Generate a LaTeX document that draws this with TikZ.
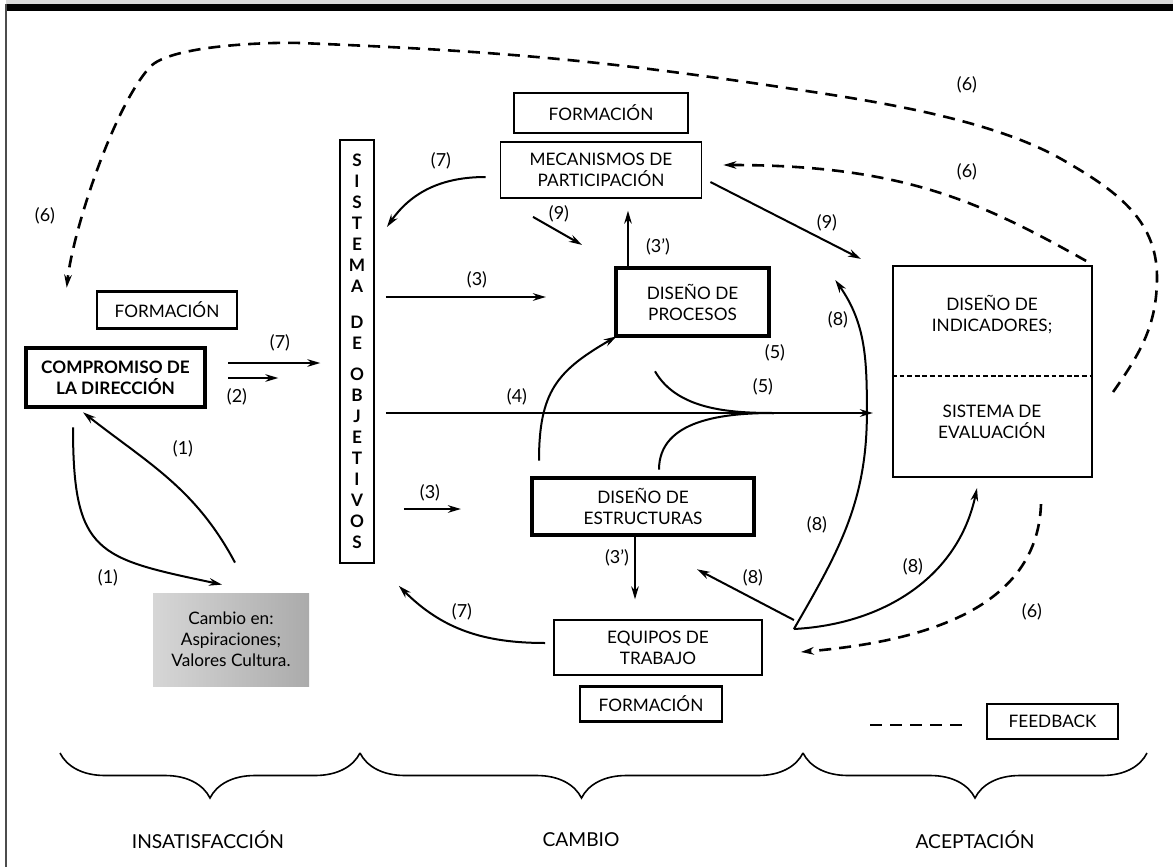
\documentclass[tikz,border=0pt]{standalone}
\usepackage{fontspec}
\setmainfont{Lato}
\usetikzlibrary{arrows.meta,positioning,calc,decorations.pathreplacing}

\begin{document}
\begin{tikzpicture}[x=0.5pt,y=-0.5pt,>={Stealth[length=6.5pt,width=3.8pt]},
  txt/.style={font=\fontsize{8.6}{10.5}\selectfont,align=center},
  caja/.style={txt,draw,line width=0.9pt,inner sep=0pt},
  cajaform/.style={caja,line width=1.3pt},
  cajagruesa/.style={caja,line width=2.3pt},
  num/.style={font=\fontsize{9}{10.5}\selectfont,inner sep=1pt},
  etapa/.style={font=\fontsize{9.6}{11}\selectfont},
  flecha/.style={->,line width=1pt},
  fb/.style={line width=1.3pt,dash pattern=on 6pt off 4pt},
  llave/.style={line width=0.8pt,decorate,decoration={brace,mirror,amplitude=22.5pt}}]
\useasboundingbox (0,0) rectangle (1173,867);
\fill[black!15] (6,0) rectangle (1173,4);
\fill (6,4) rectangle (1173,11);
\draw[black!70,line width=1pt] (6,4) -- (6,867);

\node[cajagruesa,font=\fontsize{8.6}{10.5}\selectfont\bfseries,minimum width=89.5pt,minimum height=29.5pt] (compromiso) at (115.5,377.5) {COMPROMISO DE\\LA DIRECCIÓN};
\node[cajaform,minimum width=70pt,minimum height=18.5pt,above=8pt of compromiso,xshift=25.75pt] (formizq) {FORMACIÓN};
\node[caja,font=\fontsize{8.6}{10.5}\selectfont\bfseries,minimum width=17pt,minimum height=211.5pt] (sistema) at (357,351.5) {S\\I\\S\\T\\E\\M\\A\\[7.5pt]D\\E\\[5pt]O\\B\\J\\E\\T\\I\\V\\O\\S};
\node[caja,minimum width=100.5pt,minimum height=28pt] (mecan) at (601,170) {MECANISMOS DE\\PARTICIPACIÓN};
\node[cajaform,minimum width=87pt,minimum height=20pt,above=3.5pt of mecan] (formsup) {FORMACIÓN};
\node[cajagruesa,minimum width=76.5pt,minimum height=34pt] (procesos) at (692.5,302) {DISEÑO DE\\PROCESOS};
\node[cajagruesa,minimum width=111pt,minimum height=28.5pt] (estructuras) at (643,506.5) {DISEÑO DE\\ESTRUCTURAS};
\node[caja,minimum width=104pt,minimum height=27.5pt] (equipos) at (658,647.5) {EQUIPOS DE\\TRABAJO};
\node[cajaform,minimum width=71pt,minimum height=17.5pt,below=4.5pt of equipos,xshift=-3.5pt] (forminf) {FORMACIÓN};
\node[caja,line width=1.1pt,minimum width=99.5pt,minimum height=105.5pt] (evaluacion) at (992.5,371.5) {};
\node[txt] (indicadores) at (992,315) {DISEÑO DE\\INDICADORES;};
\node[txt] (sisteval) at (992,422) {SISTEMA DE\\EVALUACIÓN};
\draw[line width=1pt,dash pattern=on 2.4pt off 1.4pt] ([yshift=-2.25pt]evaluacion.west) -- ([yshift=-2.25pt]evaluacion.east);
\node[txt,left color=gray!32,right color=gray!66,minimum width=78pt,minimum height=46.5pt] (cambio) at (231,639.5) {Cambio en:\\Aspiraciones;\\Valores Cultura.};
\node[cajaform,minimum width=65.5pt,minimum height=17.5pt] (feedback) at (1052.5,721.5) {FEEDBACK};

\draw[flecha,shorten <=10.5pt] ([yshift=7.25pt]compromiso.east) -- ++(113,0);
\draw[flecha,shorten <=10.5pt] ([yshift=-0.25pt]compromiso.east) -- ++(71,0);
\draw[flecha] ([xshift=-21.25pt,yshift=-9pt]compromiso.south) to[out=-90,in=168,looseness=1.5] ([xshift=-4.5pt,yshift=4pt]cambio.north);
\draw[flecha] ([xshift=2pt,yshift=15pt]cambio.north) to[out=118,in=-38] ([xshift=-16.25pt,yshift=-1.5pt]compromiso.south);
\draw[flecha] ([xshift=-7pt,yshift=-3.5pt]mecan.west) to[out=180,in=55] ([xshift=6pt,yshift=62.25pt]sistema.east);
\draw[flecha] ([xshift=5.5pt,yshift=27.25pt]sistema.east) -- ++(160,0);
\draw[flecha] ([xshift=5.5pt,yshift=-30.75pt]sistema.east) -- ++(487,0);
\draw[flecha] ([xshift=14.5pt,yshift=-78.75pt]sistema.east) -- ++(57,0);
\draw[flecha] ([xshift=-34pt,yshift=-9pt]mecan.south) -- ++(49,28);
\draw[flecha] ([xshift=-32.25pt]procesos.north) -- ++(0,-55);
\draw[flecha] ([xshift=4pt,yshift=-6pt]mecan.east) -- ([xshift=-15.5pt,yshift=3pt]evaluacion.north west);
\draw[flecha] ([xshift=-52pt,yshift=7.5pt]estructuras.north) to[out=90,in=-150,looseness=1.2] ([xshift=1.5pt,yshift=1pt]procesos.south west);
\coordinate (union5) at ([xshift=-59pt,yshift=-20.75pt]evaluacion.west);
\draw[line width=1pt] ([xshift=-18.75pt,yshift=-16.5pt]procesos.south) to[out=-60,in=180,looseness=0.9] (union5);
\draw[line width=1pt] ([xshift=8pt,yshift=3pt]estructuras.north) to[out=90,in=180] (union5);
\coordinate (vertice) at ([xshift=15.5pt,yshift=9.25pt]equipos.east);
\coordinate (punta8) at ([xshift=32pt,yshift=11pt]procesos.east);
\draw[flecha] (vertice) to[out=60,in=-90] ([xshift=-12.5pt,yshift=-20.75pt]evaluacion.west) to[out=90,in=-55] (punta8);
\draw[flecha] (vertice) to[out=3,in=-102] ([xshift=-7.75pt,yshift=-5pt]evaluacion.south);
\draw[flecha] ([yshift=4.5pt]vertice) -- ([xshift=27pt,yshift=-16pt]estructuras.south);
\draw[flecha] ([xshift=-4pt]estructuras.south) -- ++(0,62);
\draw[flecha] ([xshift=-4pt,yshift=2.25pt]equipos.west) to[out=180,in=-45] ([xshift=12pt,yshift=-11pt]sistema.south east);

\draw[fb,->] ([xshift=-3.5pt,yshift=2pt]evaluacion.north east) .. controls (981,202) and (903,165) .. ([xshift=10.5pt,yshift=2.5pt]mecan.east);
\draw[fb,->] ([xshift=24.25pt,yshift=-13pt]evaluacion.south) to[out=-92,in=5] ([xshift=19pt,yshift=-2.25pt]equipos.east);
\draw[fb,->] ([xshift=10pt,yshift=-10.25pt]evaluacion.east) to[out=55,in=-90] (1157,277) to[out=90,in=-30] (1063,160) to[out=150,in=-8.5,looseness=0.75] (780,87) to[out=171.5,in=-2.3] (300,43) to[out=178,in=47.7,looseness=0.5] (150,67) to[out=227.7,in=84,looseness=0.6] ([xshift=21.5pt,yshift=29pt]compromiso.north west);
\draw[fb] ([xshift=-12pt,yshift=-1.75pt]feedback.west) -- ++(-95,0);

\node[num] (n6a) at (45,216) {(6)};
\node[num] (n6b) at (967,85) {(6)};
\node[num] (n6c) at (967,172) {(6)};
\node[num] (n6d) at (1032,612) {(6)};
\node[num] (n7a) at (441,161) {(7)};
\node[num] (n7b) at (280,343) {(7)};
\node[num] (n7c) at (462,612) {(7)};
\node[num] (n9a) at (559,214) {(9)};
\node[num] (n9b) at (827,223) {(9)};
\node[num] (n3a) at (477,280) {(3)};
\node[num] (n3b) at (430,493) {(3)};
\node[num] (n3pa) at (658,247) {(3')};
\node[num] (n3pb) at (617,558) {(3')};
\node[num] (n2) at (237,397) {(2)};
\node[num] (n4) at (517,397) {(4)};
\node[num] (n5a) at (775,353) {(5)};
\node[num] (n5b) at (763,387) {(5)};
\node[num] (n8a) at (838,320) {(8)};
\node[num] (n8b) at (817,525) {(8)};
\node[num] (n8c) at (913,567) {(8)};
\node[num] (n8d) at (753,578) {(8)};
\node[num] (n1a) at (183,449) {(1)};
\node[num] (n1b) at (108,578) {(1)};

\draw[llave] (60,753) -- (360,753);
\draw[llave] (360,753) -- (803,753);
\draw[llave] (803,753) -- (1147,753);
\node[etapa] (insat) at (208,840) {INSATISFACCIÓN};
\node[etapa] (cambioet) at (581,840) {CAMBIO};
\node[etapa] (acept) at (975,840) {ACEPTACIÓN};
\end{tikzpicture}
\end{document}
